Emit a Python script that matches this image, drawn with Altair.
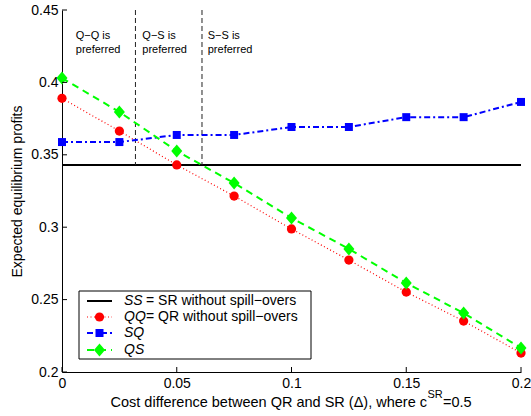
import altair as alt
import pandas as pd

# Cost difference between QR and SR (Delta)
delta = [0.0, 0.025, 0.05, 0.075, 0.1, 0.125, 0.15, 0.175, 0.2]
# Expected equilibrium profits for each strategy pair
ss_profit = 0.343
qq_profit = [0.389, 0.3664, 0.343, 0.3215, 0.2988, 0.2773, 0.2552, 0.2352, 0.2131]
sq_profit = [0.3588, 0.3588, 0.3637, 0.3637, 0.3692, 0.3692, 0.376, 0.376, 0.3865]
qs_profit = [0.403, 0.3796, 0.3526, 0.3305, 0.3064, 0.285, 0.2615, 0.2407, 0.2166]
# Deltas where the preferred pair switches
switch_delta = [0.032, 0.061]
region_text = ["Q−Q is", "Q−S is", "S−S is"]
region_anchor = [0.006, 0.035, 0.0635]

x_ticks = [0, 0.05, 0.1, 0.15, 0.2]
y_ticks = [0.2, 0.25, 0.3, 0.35, 0.4, 0.45]

W, H = 459, 362
FONT = "Liberation Sans"
FS = 14
DIAMOND = "M0,-1L0.85,0L0,1L-0.85,0Z"

xs = alt.Scale(domain=[0, 0.2], nice=False, zero=False)
ys = alt.Scale(domain=[0.2, 0.45], nice=False, zero=False)

x_axis = alt.Axis(values=x_ticks, format="~g", title=None, ticks=False, tickSize=0,
                  grid=False, domainColor="black", domainWidth=1, labelFlush=False,
                  labelFont=FONT, labelFontSize=FS, labelColor="black", labelPadding=4)
y_axis = alt.Axis(values=y_ticks, format="~g", title="Expected equilibrium profits",
                  ticks=False, tickSize=0, grid=False, domainColor="black", domainWidth=1,
                  labelFlush=False,
                  labelFont=FONT, labelFontSize=FS, labelColor="black", labelPadding=4,
                  titleFont=FONT, titleFontSize=FS, titleFontWeight="normal",
                  titleColor="black", titlePadding=6)


def X(field):
    return alt.X(field, scale=xs, axis=x_axis)


def Y(field):
    return alt.Y(field, scale=ys, axis=y_axis)


df = pd.DataFrame({"delta": delta, "QQ": qq_profit, "SQ": sq_profit, "QS": qs_profit})
base = alt.Chart(df)
one = alt.Chart(pd.DataFrame({"k": [0]}))

layers = []

# SS baseline (no spill-overs)
layers.append(one.mark_rule(color="black", strokeWidth=2).encode(
    x=alt.XDatum(0, scale=xs, axis=x_axis), x2=alt.X2Datum(0.2),
    y=alt.YDatum(ss_profit, scale=ys, axis=y_axis)))

# region boundaries
bounds = pd.DataFrame({"d": switch_delta, "top": [0.45, 0.45], "bot": [ss_profit, ss_profit]})
layers.append(alt.Chart(bounds).mark_rule(color="#222222", strokeWidth=1, strokeDash=[5, 3]).encode(
    x=X("d:Q"), y=Y("top:Q"), y2="bot:Q"))

regions = pd.DataFrame({"x": region_anchor, "t": region_text})
layers.append(alt.Chart(regions).mark_text(align="left", baseline="alphabetic", font=FONT,
                                           fontSize=11, color="black").encode(
    x=X("x:Q"), y=alt.value(29), text="t:N"))
layers.append(alt.Chart(regions).mark_text(align="left", baseline="alphabetic", font=FONT,
                                           fontSize=11, color="black", text="preferred").encode(
    x=X("x:Q"), y=alt.value(43)))

styles = [
    ("QQ", "#ff0000", [1, 2.5], 1.2, "circle", 85),
    ("SQ", "#0000ff", [6, 3, 2, 3], 2, "square", 64),
    ("QS", "#00ff00", [7, 5], 2, DIAMOND, 169),
]
for col, color, dash, width, shape, size in styles:
    layers.append(base.mark_line(color=color, strokeDash=dash, strokeWidth=width).encode(
        x=X("delta:Q"), y=Y(f"{col}:Q")))
    layers.append(base.mark_point(filled=True, shape=shape, size=size, color=color, opacity=1).encode(
        x=X("delta:Q"), y=Y(f"{col}:Q")))

# inward ticks
layers.append(alt.Chart(pd.DataFrame({"v": y_ticks})).mark_rule(color="black", strokeWidth=1).encode(
    y=Y("v:Q"), x=alt.value(0), x2=alt.value(5)))
layers.append(alt.Chart(pd.DataFrame({"v": x_ticks})).mark_rule(color="black", strokeWidth=1).encode(
    x=X("v:Q"), y=alt.value(H), y2=alt.value(H - 5)))

# legend box
layers.append(one.mark_rect(fill="white", stroke="black", strokeWidth=1).encode(
    x=alt.value(17), x2=alt.value(249), y=alt.value(281), y2=alt.value(349)))
legend_rows = [
    ("SS", "= SR without spill−overs", "black", None, 2, None, 0),
    ("QQ", "= QR without spill−overs", "#ff0000", [1, 2.5], 1.2, "circle", 85),
    ("SQ", "", "#0000ff", [6, 3, 2, 3], 2, "square", 64),
    ("QS", "", "#00ff00", [7, 5], 2, DIAMOND, 169),
]
row_y = [291, 307, 323, 340]
for (name, rest, color, dash, width, shape, size), ry in zip(legend_rows, row_y):
    rule_kw = dict(color=color, strokeWidth=width)
    if dash:
        rule_kw["strokeDash"] = dash
    layers.append(one.mark_rule(**rule_kw).encode(x=alt.value(25), x2=alt.value(50), y=alt.value(ry)))
    if shape:
        layers.append(one.mark_point(filled=True, shape=shape, size=size, color=color, opacity=1).encode(
            x=alt.value(37.5), y=alt.value(ry)))
    layers.append(one.mark_text(align="left", baseline="middle", font=FONT, fontSize=FS,
                                fontStyle="italic", color="black", text=name).encode(
        x=alt.value(62), y=alt.value(ry)))
    if rest:
        layers.append(one.mark_text(align="left", baseline="middle", font=FONT, fontSize=FS,
                                    color="black", text=rest).encode(
            x=alt.value(84), y=alt.value(ry)))

# x-axis title with superscript
layers.append(one.mark_text(align="right", baseline="alphabetic", font=FONT, fontSize=14.5, color="black",
                            text="Cost difference between QR and SR (Δ), where c").encode(
    x=alt.value(365), y=alt.value(397)))
layers.append(one.mark_text(align="left", baseline="alphabetic", font=FONT, fontSize=11, color="black",
                            text="SR").encode(x=alt.value(365.5), y=alt.value(388)))
layers.append(one.mark_text(align="left", baseline="alphabetic", font=FONT, fontSize=14.5, color="black",
                            text="=0.5").encode(x=alt.value(381), y=alt.value(397)))

chart = alt.layer(*layers).properties(
    width=W, height=H,
    padding={"left": 62, "top": 10, "right": 10, "bottom": 44},
    autosize=alt.AutoSizeParams(type="none"),
    background="white",
).configure_view(strokeWidth=0)

chart.save("out.html", embed_options={"renderer": "svg", "actions": False})
